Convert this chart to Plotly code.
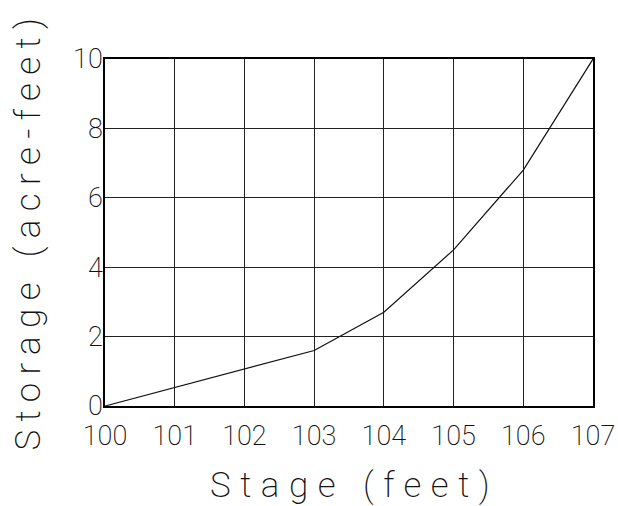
import plotly.graph_objects as go

stage = [100, 103, 104, 105, 106, 107]
storage = [0, 1.6, 2.7, 4.5, 6.8, 10]
x_ticks = [100, 101, 102, 103, 104, 105, 106, 107]
y_ticks = [0, 2, 4, 6, 8, 10]
x_title = "Stage (feet)"
y_title = "Storage (acre-feet)"

FONT = "Roboto, DejaVu Sans, sans-serif"

fig = go.Figure()
fig.add_trace(go.Scatter(x=stage, y=storage, mode="lines",
                         line=dict(color="#111", width=1.2), showlegend=False))

axis_common = dict(showgrid=True, gridcolor="#222", gridwidth=1.3,
                   showline=True, linecolor="#000", linewidth=1.6, mirror=True,
                   zeroline=False, ticks="", automargin=False,
                   tickfont=dict(family=FONT, size=27, color="#111", weight=200))
fig.update_xaxes(range=[100, 107], tickvals=x_ticks,
                 ticktext=[str(v) for v in x_ticks], ticklabelstandoff=5, **axis_common)
fig.update_yaxes(range=[0, 10], tickvals=y_ticks,
                 ticktext=[str(v) for v in y_ticks], ticklabelstandoff=-5, **axis_common)

fig.add_annotation(text=f'<span style="letter-spacing:9.5px">{x_title}</span>',
                   xref="paper", yref="paper", x=0.5, y=0,
                   xanchor="center", yanchor="middle", xshift=5, yshift=-79,
                   showarrow=False,
                   font=dict(family=FONT, size=35, color="#111", weight=200))
fig.add_annotation(text=f'<span style="letter-spacing:8.4px">{y_title}</span>',
                   xref="paper", yref="paper", x=0, y=0.5,
                   xanchor="center", yanchor="middle", xshift=-77, yshift=2,
                   textangle=-90, showarrow=False,
                   font=dict(family=FONT, size=35, color="#111", weight=200))

fig.update_layout(width=618, height=506, margin=dict(l=105, r=25, t=59, b=100),
                  plot_bgcolor="white", paper_bgcolor="white")
fig.write_html("out.html", config={"displayModeBar": False},
               post_script="document.body.style.margin='0';document.body.style.padding='0';")
